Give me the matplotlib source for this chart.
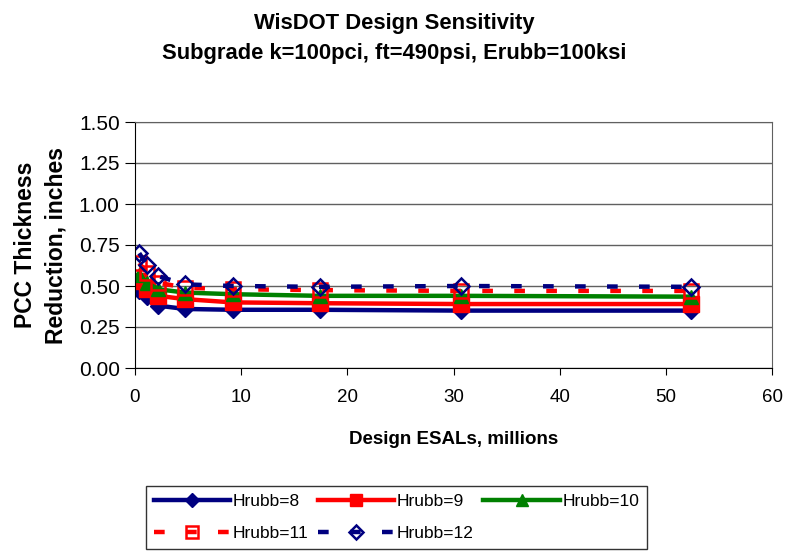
import matplotlib
matplotlib.use("Agg")
import matplotlib.pyplot as plt

plt.rcParams['font.family'] = ['Liberation Sans', 'DejaVu Sans']

# Design ESALs (millions)
esals = [0.4, 1.1, 2.2, 4.7, 9.2, 17.4, 30.7, 52.4]

# PCC thickness reduction (inches) for each Hrubb
h8 = [0.47, 0.43, 0.38, 0.36, 0.355, 0.355, 0.35, 0.35]
h9 = [0.53, 0.48, 0.44, 0.42, 0.40, 0.395, 0.39, 0.39]
h10 = [0.57, 0.52, 0.48, 0.46, 0.45, 0.44, 0.44, 0.435]
h11 = [0.64, 0.58, 0.52, 0.49, 0.48, 0.475, 0.47, 0.47]
h12 = [0.70, 0.63, 0.56, 0.51, 0.50, 0.495, 0.50, 0.495]

navy = '#000080'
red = '#ff0000'
green = '#008000'

fig = plt.figure(figsize=(7.89, 5.51), dpi=100)
ax = fig.add_axes([135 / 789, 1 - 368 / 551, (772 - 135) / 789, (368 - 122) / 551])

l8, = ax.plot(esals, h8, color=navy, lw=3.2, marker='D', ms=8.5, mfc=navy, mec=navy, label='Hrubb=8')
l9, = ax.plot(esals, h9, color=red, lw=3.2, marker='s', ms=11, mfc=red, mec=red, label='Hrubb=9')
l10, = ax.plot(esals, h10, color=green, lw=3.2, marker='^', ms=10, mfc=green, mec=green, label='Hrubb=10')
l11, = ax.plot(esals, h11, color=red, lw=3.2, dashes=(2.4, 4.8), marker='s', ms=10, mfc='none', mec=red,
               mew=1.8, label='Hrubb=11')
l12, = ax.plot(esals, h12, color=navy, lw=3.2, dashes=(2.4, 4.8), marker='D', ms=8.5, mfc='none', mec=navy,
               mew=1.8, label='Hrubb=12')

ax.set_xlim(0, 60)
ax.set_ylim(0, 1.5)
ax.set_xticks(range(0, 61, 10))
ax.set_yticks([0, 0.25, 0.5, 0.75, 1.0, 1.25, 1.5])
ax.set_yticklabels(['0.00', '0.25', '0.50', '0.75', '1.00', '1.25', '1.50'])
ax.tick_params(axis='x', labelsize=13.5, direction='out', length=5, pad=10)
ax.tick_params(axis='y', labelsize=15, direction='out', length=7, pad=4)
ax.grid(axis='y', color='#606060', lw=1)
ax.set_axisbelow(True)
for s in ax.spines.values():
    s.set_color('#606060')
ax.spines['left'].set_color('black')
ax.spines['bottom'].set_color('black')

ax.set_xlabel('Design ESALs, millions', fontsize=13.5, fontweight='bold', labelpad=18)
ax.set_ylabel('PCC Thickness\nReduction, inches', fontsize=16.5, fontweight='bold', labelpad=8,
              linespacing=1.45)

fig.text(0.5, 1 - 23 / 551, 'WisDOT Design Sensitivity', ha='center', va='center',
         fontsize=15.8, fontweight='bold')
fig.text(0.5, 1 - 54 / 551, 'Subgrade k=100pci, ft=490psi, Erubb=100ksi', ha='center', va='center',
         fontsize=15.8, fontweight='bold')

# column-major order so the rows read 8, 9, 10 / 11, 12
handles = [l8, l11, l9, l12, l10]
labels = [h.get_label() for h in handles]
leg = fig.legend(handles, labels, loc='lower left',
                 bbox_to_anchor=(146 / 789, 1 - 549 / 551, (647 - 146) / 789, (549 - 480) / 551),
                 ncol=3, mode='expand', fontsize=12.5, frameon=True, fancybox=False, handlelength=4.4,
                 handletextpad=0.15, columnspacing=0.5, borderaxespad=0, borderpad=0.45,
                 labelspacing=1.0, markerscale=0.85)
leg.get_frame().set_edgecolor('black')
leg.get_frame().set_linewidth(1)

fig.savefig('out.png', dpi=100)
